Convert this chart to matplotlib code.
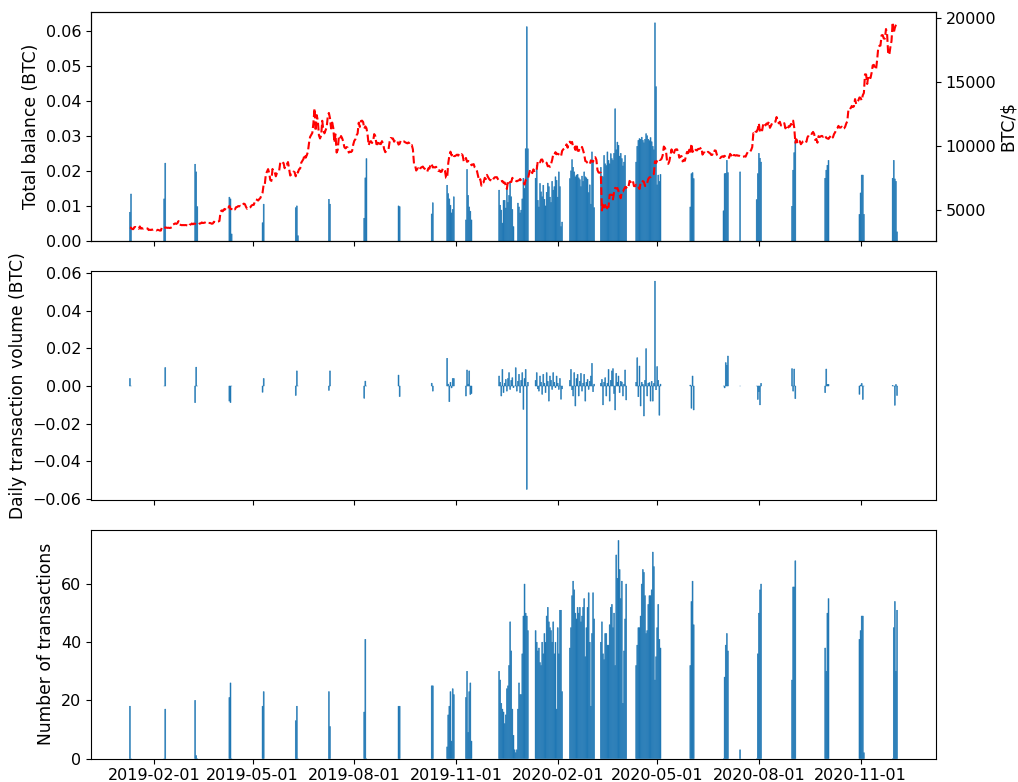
import pandas as pd
import matplotlib
matplotlib.use("Agg")
import matplotlib.pyplot as plt
import matplotlib.dates as mdates
from matplotlib.ticker import MultipleLocator

# Runs of consecutive days with wallet activity: first day of each run
run_starts = [
    "2019-01-10", "2019-02-10", "2019-03-10", "2019-04-10", "2019-05-10",
    "2019-06-09", "2019-07-09", "2019-08-10", "2019-09-10", "2019-10-10",
    "2019-10-24", "2019-11-10", "2019-12-10", "2020-01-12", "2020-02-12",
    "2020-03-11", "2020-04-12", "2020-05-31", "2020-06-30", "2020-07-15",
    "2020-07-30", "2020-08-31", "2020-09-30", "2020-10-31", "2020-11-30",
]

# Total balance (BTC), one value per day of each run
balance_runs = [
    [0.0082, 0.0134],
    [0.0120, 0.0222],
    [0.0219, 0.0197, 0.0098],
    [0.0125, 0.0120, 0.0020],
    [0.0052, 0.0105],
    [0.0095, 0.0100, 0.0015],
    [0.0119, 0.0105],
    [0.0065, 0.0180, 0.0235],
    [0.0100, 0.0098],
    [0.0077, 0.0109],
    [0.0159, 0.0135, 0.0120, 0.0102, 0.0080, 0.0090, 0.0126],
    [0.0060, 0.0204, 0.0130, 0.0097, 0.0085, 0.0060],
    [0.0145, 0.0102, 0.0088, 0.0051, 0.0116, 0.0116, 0.0094, 0.0154, 0.0110,
     0.0130, 0.0169, 0.0126, 0.0090, 0.0041, 0.0, 0.0, 0.0, 0.0108, 0.0097,
     0.0080, 0.0088, 0.0120, 0.0179, 0.0150, 0.0263, 0.0611, 0.0263],
    [0.0179, 0.0216, 0.0116, 0.0097, 0.0164, 0.0140, 0.0126, 0.0159, 0.0119,
     0.0100, 0.0139, 0.0165, 0.0155, 0.0125, 0.0110, 0.0170, 0.0145, 0.0155,
     0.0183, 0.0173, 0.0125, 0.0197, 0.0155, 0.0041, 0.0054],
    [0.0178, 0.0200, 0.0232, 0.0210, 0.0197, 0.0183, 0.0188, 0.0190, 0.0180,
     0.0175, 0.0155, 0.0185, 0.0170, 0.0197, 0.0183, 0.0180, 0.0176, 0.0138,
     0.0160, 0.0105, 0.0254, 0.0231, 0.0095],
    [0.0210, 0.0185, 0.0183, 0.0244, 0.0220, 0.0215, 0.0254, 0.0230, 0.0220,
     0.0249, 0.0235, 0.0230, 0.0250, 0.0377, 0.0260, 0.0282, 0.0273, 0.0242,
     0.0250, 0.0235, 0.0214, 0.0225, 0.0244, 0.0155],
    [0.0225, 0.0270, 0.0287, 0.0292, 0.0290, 0.0296, 0.0287, 0.0280, 0.0290,
     0.0306, 0.0300, 0.0290, 0.0286, 0.0295, 0.0283, 0.0270, 0.0260, 0.0622,
     0.0440, 0.0160, 0.0188, 0.0170, 0.0190],
    [0.0097, 0.0192, 0.0195, 0.0178],
    [0.0086, 0.0192, 0.0193, 0.0230, 0.0195],
    [0.0197],
    [0.0118, 0.0192, 0.0250, 0.0236, 0.0225],
    [0.0099, 0.0202, 0.0252, 0.0287],
    [0.0179, 0.0202, 0.0216, 0.0230],
    [0.0076, 0.0137, 0.0188, 0.0188, 0.0076],
    [0.0179, 0.0230, 0.0177, 0.0170, 0.0026],
]

# Net daily transaction volume (BTC)
volume_runs = [
    [0.0040, 0.0],
    [0.0, 0.0098],
    [-0.0088, 0.0100, 0.0],
    [-0.0080, -0.0088, 0.0],
    [-0.0033, 0.0040],
    [-0.0050, 0.0080, 0.0],
    [-0.0023, 0.0080],
    [-0.0065, 0.0026, 0.0],
    [0.0058, -0.0056],
    [0.0015, -0.0027],
    [0.0147, 0.0010, -0.0083, 0.0020, -0.0010, 0.0040, 0.0040],
    [-0.0053, 0.0085, 0.0010, 0.0080, -0.0045, -0.0040],
    [0.0053, 0.0020, -0.0053, 0.0088, -0.0035, 0.0015, 0.0035, -0.0027, 0.0040,
     0.0071, -0.0018, 0.0030, 0.0044, -0.0009, 0.0, 0.0097, -0.0027, 0.0025,
     0.0062, -0.0035, 0.0030, 0.0071, -0.0124, 0.0040, 0.0088, -0.0548, 0.0020],
    [0.0030, 0.0071, -0.0015, -0.0027, 0.0053, 0.0020, -0.0044, 0.0062, 0.0015,
     -0.0035, 0.0071, 0.0025, -0.0080, 0.0053, 0.0030, -0.0018, 0.0071, 0.0020,
     -0.0009, 0.0053, 0.0015, -0.0018, 0.0040, -0.0070, -0.0015],
    [0.0030, 0.0088, -0.0020, -0.0053, 0.0071, -0.0106, 0.0040, 0.0062, -0.0053,
     0.0025, 0.0067, -0.0027, 0.0015, 0.0062, -0.0080, 0.0020, 0.0035, -0.0018,
     0.0025, 0.0053, 0.0120, -0.0030, 0.0010],
    [0.0015, 0.0035, -0.0100, 0.0020, 0.0044, -0.0053, 0.0015, 0.0088, -0.0080,
     0.0030, 0.0080, 0.0092, -0.0040, -0.0127, 0.0067, 0.0020, 0.0053, -0.0035,
     0.0025, 0.0021, -0.0053, 0.0010, 0.0085, -0.0074],
    [0.0020, 0.0150, -0.0057, 0.0106, -0.0106, 0.0020, 0.0009, -0.0159, 0.0030,
     0.0198, -0.0053, 0.0015, 0.0018, -0.0080, 0.0025, -0.0080, 0.0014, 0.0556,
     -0.0020, 0.0103, 0.0030, -0.0155, 0.0010],
    [0.0005, -0.0118, 0.0053, -0.0127],
    [0.0, -0.0010, 0.0124, 0.0110, 0.0159],
    [0.0],
    [0.0, -0.0071, -0.0030, -0.0100, 0.0014],
    [0.0092, -0.0027, 0.0090, -0.0067],
    [-0.0035, 0.0090, 0.0009, 0.0009],
    [-0.0044, 0.0005, 0.0014, -0.0071, 0.0],
    [0.0003, 0.0, -0.0102, 0.0008, -0.0050],
]

# Number of transactions per day
count_runs = [
    [18, 0],
    [0, 17],
    [20, 1, 0],
    [21, 26, 0],
    [18, 23],
    [13, 18, 0],
    [23, 11],
    [16, 41, 0],
    [18, 18],
    [25, 25],
    [4, 15, 18, 23, 6, 24, 22],
    [21, 30, 9, 23, 26, 6],
    [30, 27, 19, 17, 16, 12, 15, 24, 25, 32, 47, 37, 17, 8, 3, 2, 3, 17, 26,
     22, 22, 36, 49, 60, 50, 49, 44],
    [44, 40, 37, 38, 33, 32, 40, 36, 43, 40, 49, 52, 47, 45, 44, 40, 47, 36,
     40, 17, 45, 36, 51, 51, 23],
    [38, 45, 56, 61, 58, 50, 48, 52, 50, 52, 47, 49, 52, 55, 35, 45, 52, 57,
     40, 18, 43, 57, 48],
    [40, 47, 36, 34, 43, 43, 39, 39, 46, 52, 53, 45, 50, 32, 70, 62, 75, 65,
     55, 61, 19, 37, 48, 60],
    [32, 39, 45, 45, 49, 60, 65, 64, 56, 43, 44, 53, 56, 56, 58, 71, 66, 27,
     35, 45, 53, 41, 38],
    [32, 54, 61, 46],
    [0, 28, 39, 43, 37],
    [3],
    [0, 36, 50, 58, 60],
    [27, 59, 59, 68],
    [38, 30, 50, 55],
    [41, 44, 49, 49, 2],
    [0, 45, 54, 30, 51],
]

# Daily BTC price in USD, starting 2019-01-10
price_start = "2019-01-10"
price_2019 = [
    3630, 3620, 3520, 3510, 3660, 3680, 3630, 3620, 3540, 3720, 3550, 3580, 3550, 3590, 3570, 3580, 3560, 3440, 3470, 3440, 3480, 3460,
    3490, 3460, 3410, 3460, 3440, 3400, 3400, 3660, 3660, 3690, 3620, 3630, 3610, 3620, 3600, 3620, 3670, 3880, 3910, 3960, 3920, 3980, 4140, 3860, 3840, 3820, 3830, 3820,
    3830, 3820, 3800, 3720, 3860, 3870, 3950, 3890, 3950, 3920, 3870, 3880, 3860, 3950, 3960, 4030, 3990, 4000, 4030, 4080, 4010, 4000, 3990, 3980, 3930, 3950, 4090, 4030, 4090, 4100, 4110,
    4150, 4880, 4970, 4900, 5050, 5040, 5190, 5270, 5200, 5320, 5070, 5080, 5070, 5160, 5050, 5220, 5240, 5310, 5290, 5330, 5290, 5410, 5500, 5460, 5250, 5100, 5200, 5180, 5220, 5350,
    5400, 5400, 5640, 5830, 5800, 5740, 5850, 5940, 6150, 6350, 7000, 6970, 7820, 7990, 8190, 7880, 7340, 7270, 8200, 8000, 7950, 7630, 7880, 8000, 8060, 8690, 8800, 8720, 8660, 8260, 8550,
    8550, 8740, 8210, 7690, 7780, 7800, 8000, 7950, 7630, 8000, 7920, 8180, 8230, 8690, 8840, 8980, 9330, 9080, 9270, 9530, 10200, 10700, 10850, 11010, 11780, 12930, 11160, 12400, 11960, 10820,
    10580, 10800, 11960, 11220, 10980, 11210, 11450, 12290, 12570, 12160, 11360, 11820, 11390, 10260, 10900, 9480, 9690, 10670, 10530, 10770, 10600, 10340, 9900, 9810, 9910, 9870, 9480, 9550, 9520, 9600, 10090,
    10400, 10520, 10820, 10970, 11810, 11480, 11940, 11970, 11860, 11350, 11520, 11380, 10900, 10050, 10310, 10370, 10230, 10350, 10920, 10760, 10140, 10130, 10410, 10160, 10140, 10370, 10190, 9750, 9510, 9600, 9630,
    9760, 10350, 10620, 10590, 10580, 10330, 10480, 10410, 10360, 10100, 10160, 10420, 10360, 10360, 10350, 10280, 10240, 10200, 10270, 10180, 10020, 10070, 9730, 8620, 8490, 8080, 8220, 8250, 8100, 8290,
    8340, 8390, 8260, 8210, 8150, 7990, 8250, 8230, 8600, 8590, 8320, 8340, 8320, 8370, 8210, 8050, 8100, 7970, 7990, 8220, 8240, 8080, 7510, 7490, 8660, 9240, 9550, 9260, 9430, 9210, 9200,
    9260, 9320, 9240, 9410, 9320, 9360, 9270, 8800, 8810, 9060, 8760, 8820, 8810, 8710, 8490, 8550, 8580, 8310, 8210, 8030, 7640, 7300, 7400, 6900, 7110, 7160, 7510, 7420, 7740, 7570,
    7420, 7320, 7320, 7250, 7450, 7550, 7560, 7560, 7400, 7280, 7220, 7240, 7270, 7120, 7150, 6930, 6640, 7280, 7150, 7190, 7190, 7510, 7360, 7320, 7280, 7240, 7290, 7320, 7420, 7290, 7190,
]
price_2020 = [
    7200, 6990, 7340, 7410, 7410, 7770, 8160, 8080, 7880, 8170, 8040, 8190, 8140, 8830, 8810, 8720, 8930, 8940, 8710, 8660, 8750, 8680, 8410, 8450, 8370, 8600, 8910, 9360, 9320, 9510, 9350,
    9390, 9340, 9290, 9180, 9610, 9730, 9800, 9870, 10120, 9860, 10210, 10330, 10210, 10310, 9890, 9930, 9690, 10140, 9630, 9610, 9690, 9660, 9920, 9650, 9340, 8820, 8780, 8670, 8600,
    8560, 8870, 8790, 8760, 9080, 9120, 8910, 8110, 7920, 7910, 7910, 4970, 5560, 5200, 5390, 5010, 5230, 5240, 6190, 6200, 6190, 5830, 6420, 6730, 6680, 6720, 6470, 6240, 5920, 6430, 6440,
    6610, 6790, 6730, 6870, 6790, 7270, 7180, 7330, 7300, 6870, 6860, 6970, 6850, 6840, 6640, 7120, 7100, 7260, 7190, 6880, 6880, 7120, 7430, 7550, 7570, 7680, 7800, 7810, 8800, 8660,
    8860, 8990, 8900, 8910, 9000, 9270, 9950, 9840, 9590, 8760, 8600, 8800, 9270, 9730, 9330, 9380, 9670, 9730, 9730, 9520, 9080, 9180, 9210, 8790, 8910, 8840, 9180, 9530, 9440, 9700, 9460,
    10170, 9530, 9660, 9800, 9670, 9650, 9760, 9770, 9800, 9870, 9320, 9480, 9480, 9390, 9450, 9540, 9480, 9410, 9290, 9330, 9300, 9650, 9630, 9310, 9260, 9160, 9050, 9140, 9190, 9140,
    9230, 9120, 9090, 9130, 9070, 9380, 9250, 9430, 9280, 9280, 9240, 9280, 9240, 9240, 9190, 9130, 9150, 9160, 9190, 9160, 9370, 9530, 9580, 9540, 9680, 9910, 10990, 10910, 11100, 11110, 11320,
    11760, 11050, 11250, 11210, 11750, 11780, 11600, 11750, 11680, 11880, 11410, 11580, 11780, 11770, 11870, 11890, 12250, 11990, 11760, 11880, 11590, 11680, 11660, 11770, 11370, 11490, 11320, 11540, 11510, 11710, 11680,
    11970, 11410, 10250, 10510, 10170, 10280, 10370, 10130, 10240, 10360, 10400, 10440, 10320, 10680, 10800, 10970, 10950, 10940, 11090, 10940, 10460, 10540, 10250, 10760, 10690, 10750, 10780, 10710, 10840, 10780,
    10620, 10580, 10550, 10670, 10790, 10600, 10670, 10920, 11060, 11300, 11380, 11560, 11430, 11430, 11500, 11320, 11360, 11480, 11740, 11920, 12820, 12970, 12930, 13110, 13030, 13080, 13650, 13270, 13440, 13550, 13780,
    13740, 13550, 13950, 14130, 15580, 15570, 14830, 15480, 15330, 15290, 15700, 16280, 16320, 16070, 15960, 16720, 17650, 17800, 17820, 18620, 18640, 18370, 18360, 19110, 18730, 17150, 17110, 17720, 18180, 19630,
    18800, 19200, 19450,
]

tick_dates = ["2019-02-01", "2019-05-01", "2019-08-01", "2019-11-01",
              "2020-02-01", "2020-05-01", "2020-08-01", "2020-11-01"]


def expand(values_by_run):
    days, vals = [], []
    for start, run in zip(run_starts, values_by_run):
        days.extend(pd.date_range(start, periods=len(run), freq="D"))
        vals.extend(run)
    return days, vals


bal_days, balance = expand(balance_runs)
vol_days, volume = expand(volume_runs)
cnt_days, counts = expand(count_runs)
price = price_2019 + price_2020
price_days = pd.date_range(price_start, periods=len(price), freq="D")

TICK_FS = 11.5
LABEL_FS = 12.3
blue = "#1f77b4"
BAR_W = 0.9


def daily_bars(ax, days, values):
    bars = ax.bar(days, values, width=BAR_W, color=blue,
                  edgecolor=blue, linewidth=0.35)
    for patch in bars:
        patch.set_snap(False)
    return bars


fig, (ax1, ax2, ax3) = plt.subplots(3, 1, sharex=True, figsize=(10.18, 7.82), dpi=100)
fig.subplots_adjust(left=0.0894, right=0.9194, top=0.9847, bottom=0.030, hspace=0.13)

daily_bars(ax1, bal_days, balance)
ax1.set_ylabel("Total balance (BTC)", fontsize=LABEL_FS)
ax1.yaxis.set_major_locator(MultipleLocator(0.01))

ax1r = ax1.twinx()
ax1r.plot(price_days, price, color="red", linestyle="--", linewidth=1.5)
ax1r.set_ylabel("BTC/$", fontsize=LABEL_FS, labelpad=2)
ax1r.yaxis.set_major_locator(MultipleLocator(5000))
ax1r.tick_params(labelsize=TICK_FS)

daily_bars(ax2, vol_days, volume)
ax2.set_ylabel("Daily transaction volume (BTC)", fontsize=LABEL_FS)
ax2.yaxis.set_major_locator(MultipleLocator(0.02))

daily_bars(ax3, cnt_days, counts)
ax3.set_ylabel("Number of transactions", fontsize=LABEL_FS)
ax3.yaxis.set_major_locator(MultipleLocator(20))

ax3.set_xticks(pd.to_datetime(tick_dates))
ax3.xaxis.set_major_formatter(mdates.DateFormatter("%Y-%m-%d"))

for ax in (ax1, ax2, ax3):
    ax.tick_params(labelsize=TICK_FS)

fig.savefig("out.png", dpi=100)
